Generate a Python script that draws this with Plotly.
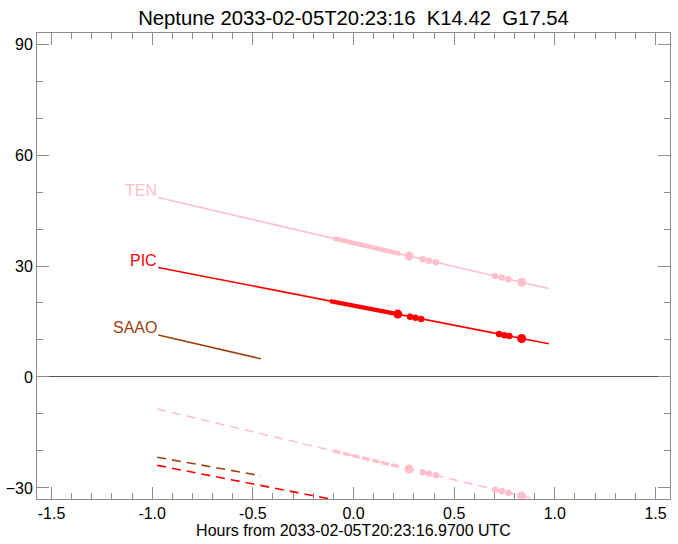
import plotly.graph_objects as go

FONT = "Liberation Sans, Arial, Helvetica, sans-serif"

# Observatories
sites = ["TEN", "PIC", "SAAO"]
colors = {"TEN": "#ffc0cb", "PIC": "#ff0000", "SAAO": "#a0410d"}

# Solid tracks (hours, degrees)
solid_x = {"TEN": [-0.97, 0.97], "PIC": [-0.97, 0.97], "SAAO": [-0.97, -0.46]}
solid_y = {"TEN": [48.5, 23.9], "PIC": [29.6, 9.0], "SAAO": [11.35, 4.9]}

# Dashed tracks (hours, degrees)
dash_x = {"TEN": [-0.975, 0.97], "PIC": [-0.975, 0.97], "SAAO": [-0.975, -0.46]}
dash_y = {"TEN": [-8.65, -33.9], "PIC": [-23.9, -44.5], "SAAO": [-21.7, -26.7]}

# Thick (dense) segments
thick_x = {"TEN": [-0.10, 0.23], "PIC": [-0.116, 0.20]}
thick_y = {"TEN": [37.5, 33.3], "PIC": [20.5, 17.2]}
thick_dash_x = [-0.10, 0.23]
thick_dash_y = [-20.0, -24.3]

# Event dots
ten_big_x = [0.276, 0.835]
ten_big_y = [32.7, 25.6]
ten_small_x = [0.344, 0.375, 0.409, 0.703, 0.736, 0.769]
ten_small_y = [31.8, 31.4, 31.0, 27.3, 26.9, 26.4]
pic_big_x = [0.22, 0.835]
pic_big_y = [17.0, 10.4]
pic_small_x = [0.281, 0.308, 0.336, 0.723, 0.749, 0.774]
pic_small_y = [16.3, 16.0, 15.7, 11.6, 11.3, 11.1]
tend_big_x = [0.276, 0.835]
tend_big_y = [-24.9, -32.2]
tend_small_x = [0.344, 0.375, 0.409, 0.703, 0.736, 0.769]
tend_small_y = [-25.8, -26.2, -26.6, -30.5, -30.9, -31.3]

title = "Neptune 2033-02-05T20:23:16  K14.42  G17.54"
xtitle = "Hours from 2033-02-05T20:23:16.9700 UTC"
xticks = [-1.5, -1.0, -0.5, 0.0, 0.5, 1.0, 1.5]
xticklabels = ["-1.5", "-1.0", "-0.5", "0.0", "0.5", "1.0", "1.5"]
yticks = [-30, 0, 30, 60, 90]

fig = go.Figure()

for s in sites:
    fig.add_trace(go.Scatter(x=dash_x[s], y=dash_y[s], mode="lines",
                             line=dict(color=colors[s], width=1.6, dash="9px,6px"),
                             showlegend=False, hoverinfo="skip"))
    fig.add_trace(go.Scatter(x=solid_x[s], y=solid_y[s], mode="lines",
                             line=dict(color=colors[s], width=1.6),
                             showlegend=False, hoverinfo="skip"))

fig.add_trace(go.Scatter(x=thick_dash_x, y=thick_dash_y, mode="lines",
                         line=dict(color=colors["TEN"], width=3.5, dash="7px,3px"),
                         showlegend=False, hoverinfo="skip"))
for s in ["TEN", "PIC"]:
    fig.add_trace(go.Scatter(x=thick_x[s], y=thick_y[s], mode="lines",
                             line=dict(color=colors[s], width=4.5),
                             showlegend=False, hoverinfo="skip"))

def dots(x, y, c, size):
    fig.add_trace(go.Scatter(x=x, y=y, mode="markers",
                             marker=dict(color=c, size=size, line=dict(width=0)),
                             showlegend=False, hoverinfo="skip", cliponaxis=True))

dots(ten_small_x, ten_small_y, colors["TEN"], 6.5)
dots(ten_big_x, ten_big_y, colors["TEN"], 9)
dots(pic_small_x, pic_small_y, colors["PIC"], 6.5)
dots(pic_big_x, pic_big_y, colors["PIC"], 9)
dots(tend_small_x, tend_small_y, colors["TEN"], 6.5)
dots(tend_big_x, tend_big_y, colors["TEN"], 9)

for s in sites:
    fig.add_annotation(x=solid_x[s][0], y=solid_y[s][0], text=s, showarrow=False,
                       xanchor="right", yanchor="middle", yshift=7, xshift=1,
                       font=dict(family=FONT, size=16, color=colors[s]))

axis_common = dict(showgrid=False, linecolor="#8c8c8c", linewidth=1, mirror="allticks",
                   ticks="inside", tickcolor="#8c8c8c", ticklen=12, tickwidth=1,
                   tickfont=dict(family=FONT, size=16, color="black"), showline=True,
                   automargin=False)

fig.update_xaxes(range=[-1.572, 1.572], tickvals=xticks, ticktext=xticklabels,
                 zeroline=False,
                 minor=dict(dtick=0.1, ticks="inside", ticklen=6, tickcolor="#8c8c8c", tick0=0),
                 title=dict(text=xtitle, font=dict(family=FONT, size=16, color="black"), standoff=2),
                 **axis_common)
fig.update_yaxes(range=[-33, 93], tickvals=yticks,
                 zeroline=True, zerolinecolor="#555555", zerolinewidth=1,
                 minor=dict(dtick=10, ticks="inside", ticklen=6, tickcolor="#8c8c8c", tick0=0),
                 **axis_common)

fig.update_layout(
    width=678, height=544,
    margin=dict(l=37, r=8, t=33, b=45),
    paper_bgcolor="white", plot_bgcolor="white",
    title=dict(text=title, xref="paper", x=0.5, xanchor="center", y=0.968, yanchor="middle",
               font=dict(family=FONT, size=20.3, color="black")),
)

fig.write_html("out.html",
               config={"displayModeBar": False},
               post_script="document.body.style.margin='0';document.body.style.padding='0';")
